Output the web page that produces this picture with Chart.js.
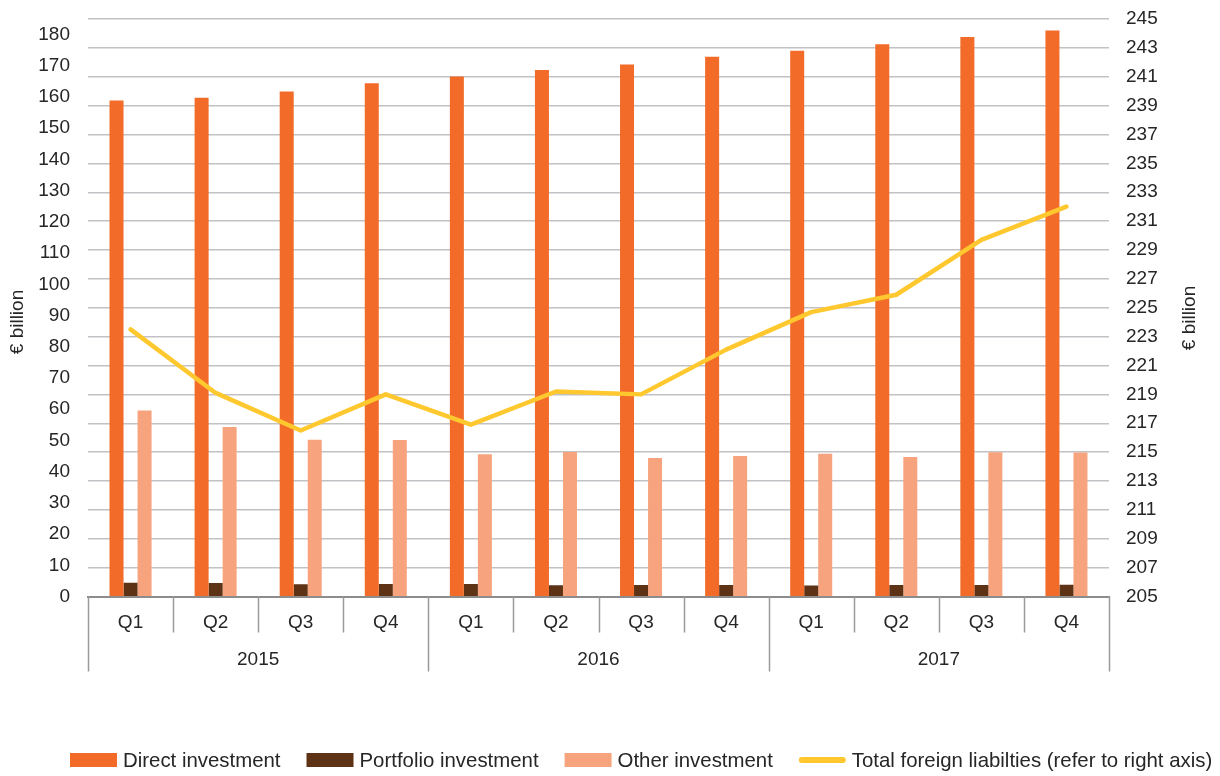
<!DOCTYPE html>
<html>
<head>
<meta charset="utf-8">
<script src="https://cdn.jsdelivr.net/npm/chart.js@4.4.0/dist/chart.umd.min.js"></script>
<style>
  html, body { margin: 0; padding: 0; background: #ffffff; }
  #wrap { width: 1220px; height: 776px; }
</style>
</head>
<body>
<div id="wrap"><canvas id="c" width="1220" height="776"></canvas></div>
<script>
// ---- data ----
const quarters = ["Q1","Q2","Q3","Q4","Q1","Q2","Q3","Q4","Q1","Q2","Q3","Q4"];
const years = ["2015","2016","2017"];
const directInvestment = [158.9,159.8,161.8,164.4,166.6,168.7,170.4,172.9,174.8,176.9,179.2,181.3];
const portfolioInvestment = [4.4,4.3,3.9,4.0,4.0,3.6,3.7,3.7,3.5,3.7,3.7,3.8];
const otherInvestment = [59.6,54.3,50.2,50.1,45.6,46.3,44.4,45.0,45.7,44.7,46.2,46.1];
const totalLiabilities = [223.5,219.1,216.5,219.0,216.9,219.2,219.0,222.1,224.7,225.9,229.7,232.0];
const seriesNames = ["Direct investment","Portfolio investment","Other investment","Total foreign liabilties (refer to right axis)"];
const axisTitle = "€ billion";

const FONT = '"Liberation Sans", Arial, sans-serif';
const TEXT = '#262626';
const colors = ['#F36B28', '#5E3214', '#F7A47E', '#FFC82E'];

const customDraw = {
  id: 'customDraw',
  afterDraw(chart) {
    const ctx = chart.ctx;
    const x = chart.scales.x;
    const area = chart.chartArea;
    const n = quarters.length;
    const w = x.getPixelForValue(1) - x.getPixelForValue(0);
    const bottom = area.bottom;
    ctx.save();
    // axis line
    ctx.strokeStyle = '#8C8C8C';
    ctx.lineWidth = 2;
    ctx.beginPath();
    ctx.moveTo(area.left - 1, bottom + 0.5);
    ctx.lineTo(area.right + 1, bottom + 0.5);
    ctx.stroke();
    // separators
    ctx.lineWidth = 1.5;
    ctx.strokeStyle = '#9A9A9A';
    for (let i = 0; i <= n; i++) {
      const px = Math.round(x.getPixelForValue(i) - w / 2) + 0.5;
      const isYear = (i % 4 === 0);
      ctx.beginPath();
      ctx.moveTo(px, bottom);
      ctx.lineTo(px, isYear ? bottom + 75 : bottom + 36);
      ctx.stroke();
    }
    // labels
    ctx.fillStyle = TEXT;
    ctx.font = '19px ' + FONT;
    ctx.textAlign = 'center';
    ctx.textBaseline = 'middle';
    for (let i = 0; i < n; i++) {
      ctx.fillText(quarters[i], x.getPixelForValue(i), bottom + 26);
    }
    for (let j = 0; j < years.length; j++) {
      const cx = (x.getPixelForValue(j * 4) + x.getPixelForValue(j * 4 + 3)) / 2;
      ctx.fillText(years[j], cx, bottom + 63);
    }
    // axis titles (both read bottom to top)
    ctx.font = '19px ' + FONT;
    [[18, 322], [1190, 318]].forEach(([tx, ty]) => {
      ctx.save();
      ctx.translate(tx, ty);
      ctx.rotate(-Math.PI / 2);
      ctx.fillText(axisTitle, 0, 0);
      ctx.restore();
    });
    // legend
    ctx.font = '20.4px ' + FONT;
    ctx.textAlign = 'left';
    let lx = 70;
    const ly = 760;
    seriesNames.forEach((name, k) => {
      if (k < 3) {
        ctx.fillStyle = colors[k];
        ctx.fillRect(lx, ly - 7, 47, 14);
      } else {
        ctx.strokeStyle = colors[k];
        ctx.lineWidth = 6;
        ctx.lineCap = 'round';
        ctx.beginPath();
        ctx.moveTo(lx + 3, ly);
        ctx.lineTo(lx + 44, ly);
        ctx.stroke();
      }
      ctx.fillStyle = TEXT;
      ctx.fillText(name, lx + 53, ly + 1);
      lx += 53 + ctx.measureText(name).width + 26;
    });
    ctx.restore();
  }
};

function fitV(width) {
  return s => { s.width = width; s.paddingTop = 0; s.paddingBottom = 0; };
}

new Chart(document.getElementById('c'), {
  data: {
    labels: quarters,
    datasets: [
      { type: 'bar', label: seriesNames[0], data: directInvestment, backgroundColor: colors[0], yAxisID: 'y', order: 1 },
      { type: 'bar', label: seriesNames[1], data: portfolioInvestment, backgroundColor: colors[1], yAxisID: 'y', order: 1 },
      { type: 'bar', label: seriesNames[2], data: otherInvestment, backgroundColor: colors[2], yAxisID: 'y', order: 1 },
      { type: 'line', label: seriesNames[3], data: totalLiabilities, borderColor: colors[3], backgroundColor: colors[3],
        borderWidth: 4.5, pointRadius: 0, tension: 0, borderCapStyle: 'round', borderJoinStyle: 'round', yAxisID: 'y1', order: 0 }
    ]
  },
  options: {
    responsive: false,
    animation: false,
    layout: { autoPadding: false, padding: { left: 0, right: 0, top: 19, bottom: 0 } },
    datasets: { bar: { categoryPercentage: 0.494, barPercentage: 1.0 } },
    plugins: { legend: { display: false }, tooltip: { enabled: false } },
    scales: {
      x: {
        type: 'category',
        offset: true,
        grid: { display: false, drawTicks: false },
        border: { display: false },
        ticks: { display: false },
        afterFit: s => { s.height = 179.5; s.paddingLeft = 0; s.paddingRight = 0; }
      },
      y: {
        position: 'left',
        min: 0, max: 185,
        ticks: { stepSize: 10, includeBounds: false, color: TEXT, font: { family: FONT, size: 19 }, padding: 18 },
        grid: { display: false, drawTicks: false },
        border: { display: false },
        afterFit: fitV(88)
      },
      y1: {
        position: 'right',
        min: 205, max: 245,
        ticks: { stepSize: 2, color: TEXT, font: { family: FONT, size: 19 }, padding: 17 },
        grid: { display: true, drawTicks: false, color: '#C2C2C6', lineWidth: 1.5 },
        border: { display: false },
        afterFit: fitV(111)
      }
    }
  },
  plugins: [customDraw]
});
</script>
</body>
</html>
